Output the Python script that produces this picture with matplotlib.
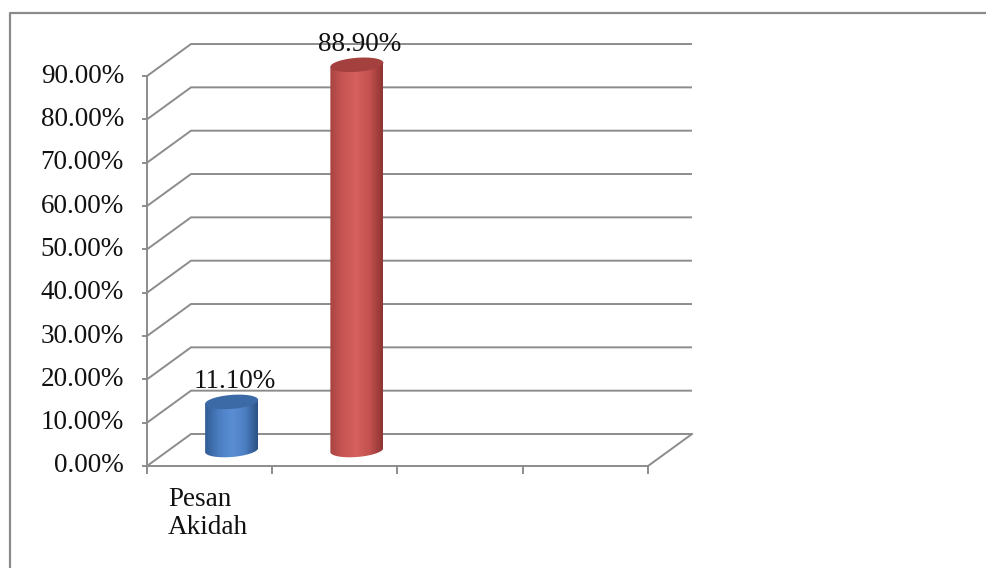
import numpy as np
import matplotlib
matplotlib.use('Agg')
import matplotlib.pyplot as plt
from matplotlib.patches import Polygon
from matplotlib.colors import LinearSegmentedColormap

# data
categories = ['Pesan\nAkidah', '', '', '']
values = [11.10, 88.90]
value_labels = ['11.10%', '88.90%']
ytick_values = [0, 10, 20, 30, 40, 50, 60, 70, 80, 90]
bar_body = [['#325d94', '#4a7cc0', '#5a8ed4', '#4d80c3', '#2c5286'],
            ['#a84441', '#c95654', '#d5605d', '#c4514f', '#8e3432']]
bar_top = ['#3c6aa6', '#a4403e']

# pixel layout of the plot (front plane)
X0, XU = 147, 125.25      # px of category 0, px per category
Y0, YU = 466, 4.333       # px of 0%, px per percent
W, H = 986, 568
DX, DY = 44 / XU, 32 / YU  # depth offset in data units
GRID = '#8c8c8c'
FONT = 'Liberation Serif'
FS = 19.5

fig = plt.figure(figsize=(W / 100, H / 100), dpi=100)
ax = fig.add_axes([0, 0, 1, 1])
ax.axis('off')

ncat = len(categories)
ymax = ytick_values[-1]

# walls / gridlines
for v in ytick_values:
    ax.plot([0, DX, ncat + DX], [v, v + DY, v + DY], color=GRID, lw=1.4, zorder=1,
            solid_capstyle='butt', solid_joinstyle='miter')
ax.plot([ncat, ncat + DX], [0, DY], color=GRID, lw=1.4, zorder=1)
ax.plot([0, ncat], [0, 0], color=GRID, lw=1.4, zorder=1)
ax.plot([0, 0], [0, ymax], color=GRID, lw=1.4, zorder=1)
for v in ytick_values:
    ax.plot([-4 / XU, 0], [v, v], color=GRID, lw=1.4, zorder=1)
    ax.text(-23 / XU, v, f'{v:.2f}%', ha='right', va='center',
            fontsize=FS, family=FONT, color='#111')
for i in range(ncat + 1):
    ax.plot([i, i], [0, -7 / YU], color=GRID, lw=1.4, zorder=1)
for i, c in enumerate(categories):
    if c:
        ax.text(i + 21 / XU, -21 / YU, c, ha='left', va='top', fontsize=FS,
                family=FONT, color='#111', linespacing=1.15)

# cylinders
bw = 53 / XU
eh = 14 / YU
skew = (4 / YU) / bw
t = np.linspace(0, np.pi, 60)
for i, v in enumerate(values):
    cx = i + 0.5 + DX / 2
    yb = DY / 2
    yt = v + DY / 2
    xs = cx - bw / 2 * np.cos(t)
    ybot = yb - eh / 2 * np.sin(t) + skew * (xs - cx)
    body = np.column_stack([np.r_[xs, cx + bw / 2, cx - bw / 2],
                            np.r_[ybot, yt + skew * bw / 2, yt - skew * bw / 2]])
    poly = Polygon(body, closed=True, facecolor='none', edgecolor='none')
    ax.add_patch(poly)
    cmap = LinearSegmentedColormap.from_list('c', bar_body[i])
    grad = np.linspace(0, 1, 200)[None, :]
    im = ax.imshow(grad, cmap=cmap, aspect='auto', zorder=2,
                   extent=[cx - bw / 2, cx + bw / 2, yb - eh, yt + eh],
                   interpolation='bilinear')
    im.set_clip_path(poly)
    tt = np.linspace(0, 2 * np.pi, 120)
    ex = cx + bw / 2 * np.cos(tt)
    ey = yt + eh / 2 * np.sin(tt) + skew * (ex - cx)
    ax.add_patch(Polygon(np.column_stack([ex, ey]), closed=True,
                         facecolor=bar_top[i], edgecolor='none', zorder=3))
    ax.text(cx + 3 / XU, yt + eh / 2 + 1 / YU, value_labels[i], ha='center',
            va='bottom', fontsize=FS, family=FONT, color='#111', zorder=4)

# outer border
ax.plot([(10 - X0) / XU, (10 - X0) / XU, (W - X0) / XU],
        [(Y0 - H) / YU, (Y0 - 13) / YU, (Y0 - 13) / YU],
        color='#8a8a8a', lw=1.6, clip_on=False, zorder=5)

ax.set_xlim(-X0 / XU, (W - X0) / XU)
ax.set_ylim((Y0 - H) / YU, Y0 / YU)
fig.savefig('out.png', dpi=100)
